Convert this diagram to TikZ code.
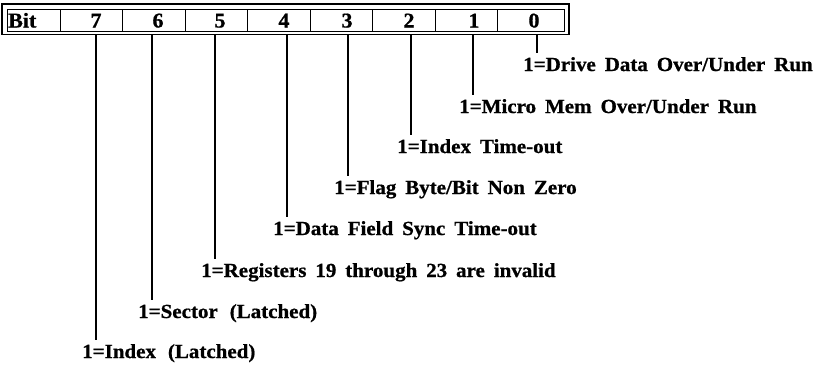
\documentclass[tikz,border=0pt]{standalone}
\usepackage{fontspec}
\newfontfamily\lblfont{Liberation Serif}[FakeStretch=1.05,WordSpace=1.7,FakeBold=0.8]
\begin{document}
\begin{tikzpicture}[x=1pt,y=-1pt,
  lbl/.style={font=\lblfont\bfseries\fontsize{20}{22}\selectfont,inner sep=0pt,anchor=base west},
  bitnum/.style={font=\lblfont\bfseries\fontsize{21}{23}\selectfont,inner sep=0pt,anchor=base},
  conn/.style={line width=1.5pt},
  cell/.style={line width=1pt}]
\useasboundingbox (0,0) rectangle (830,365);
% register box
\draw[line width=1.8pt] (2,4) rectangle (569,34.5);
\draw[cell] (7,9.5) rectangle (564,31);
\foreach \x in {60,122.5,185,247.5,310,372.5,435,497.5}
  \draw[cell] (\x,9.5) -- (\x,31);
\node[bitnum,anchor=base west] (bit) at (8,27.5) {Bit};
% bit numbers
\foreach \n/\x in {7/96,6/158,5/220,4/284,3/347,2/409,1/474,0/534}
  \node[bitnum] (b\n) at (\x,27.5) {\n};
% line positions and labels
\foreach \n/\x/\y/\t in {
  0/537/71/{1=Drive Data Over/Under Run},
  1/473/113/{1=Micro Mem Over/Under Run},
  2/411/153/{1=Index Time-out},
  3/348/194/{1=Flag Byte/Bit Non Zero},
  4/287/235/{1=Data Field Sync Time-out},
  5/215/277/{1=Registers 19 through 23 are invalid},
  6/152/318/{1=Sector\hspace{3pt} (Latched)},
  7/96/358/{1=Index\hspace{3pt} (Latched)}}{
  \coordinate (t\n) at (\x,34.5);
  \node[lbl] (l\n) at (\x-14,\y) {\t};
  \draw[conn] (t\n) -- ([yshift=4pt]t\n |- l\n.north);
}
\end{tikzpicture}
\end{document}
